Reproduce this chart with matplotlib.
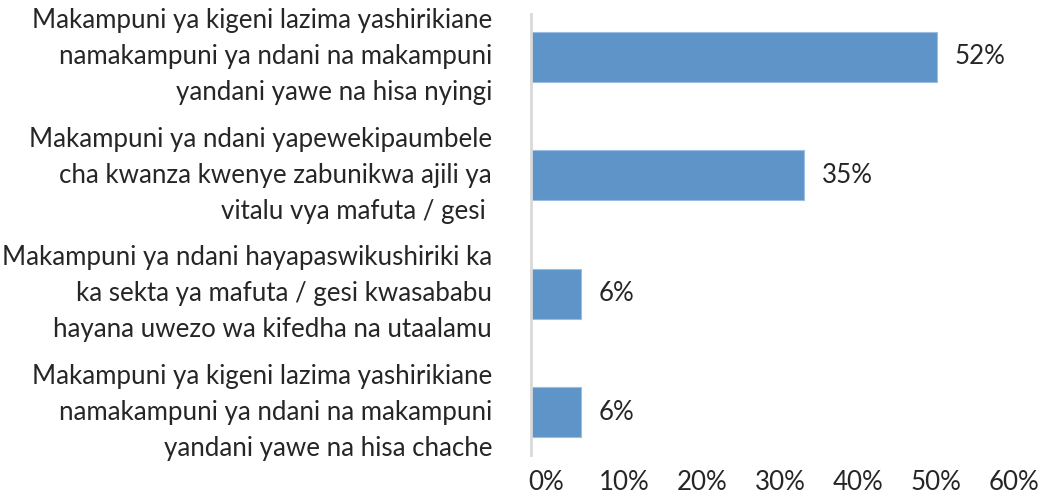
import matplotlib.pyplot as plt
from matplotlib.transforms import ScaledTranslation

# bars from top to bottom
kategoria = [
    'Makampuni ya kigeni lazima yashirikiane\nnamakampuni ya ndani na makampuni\nyandani yawe na hisa nyingi',
    'Makampuni ya ndani yapewekipaumbele\ncha kwanza kwenye zabunikwa ajili ya\nvitalu vya mafuta / gesi ',
    'Makampuni ya ndani hayapaswikushiriki ka\nka sekta ya mafuta / gesi kwasababu\nhayana uwezo wa kifedha na utaalamu',
    'Makampuni ya kigeni lazima yashirikiane\nnamakampuni ya ndani na makampuni\nyandani yawe na hisa chache',
]
asilimia = [52, 35, 6.4, 6.4]
xticks = [0, 10, 20, 30, 40, 50, 60]

plt.rcParams['font.family'] = ['Lato', 'DejaVu Sans']
txt = '#262626'
fs = 18.6

fig = plt.figure(figsize=(10.55, 4.97), dpi=100)
ax = fig.add_axes([0.5033, 0.0845, 0.4437, 0.8873])

pos = list(range(len(kategoria)))
ax.barh(pos, asilimia, height=0.42, color='#5E94C8',
        edgecolor='#9BBDE3', linewidth=0.8, zorder=2)

for y, v in zip(pos, asilimia):
    ax.annotate(f'{v:.0f}%', (v, y), xytext=(18, 0), textcoords='offset pixels',
                ha='left', va='center', fontsize=fs, color=txt)

ax.set_xlim(0, 60)
ax.set_ylim(3.36, -0.36)
ax.set_xticks(xticks)
ax.set_xticklabels([f'{t}%' for t in xticks], fontsize=fs, color=txt)
ax.set_yticks(pos)
ax.set_yticklabels(kategoria, fontsize=fs, color=txt, linespacing=1.56, va='center')

ax.tick_params(axis='x', length=0, pad=11)
ax.tick_params(axis='y', length=0, pad=28)
for lbl in ax.get_xticklabels():
    lbl.set_transform(lbl.get_transform() + ScaledTranslation(0.15, 0, fig.dpi_scale_trans))

for s in ['top', 'right', 'bottom']:
    ax.spines[s].set_visible(False)
ax.spines['left'].set_color('#D9D9D9')
ax.spines['left'].set_linewidth(2)

fig.savefig('out.png', dpi=100)
